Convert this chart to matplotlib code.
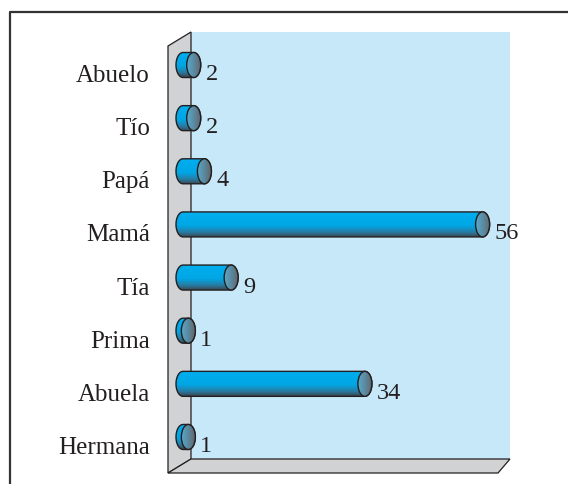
import numpy as np
import matplotlib
matplotlib.use("Agg")
import matplotlib.pyplot as plt
from matplotlib.path import Path
from matplotlib.patches import PathPatch, Ellipse, Polygon
from matplotlib.colors import LinearSegmentedColormap
import matplotlib.transforms as mtransforms

# data (top to bottom as in the picture)
categories = ["Abuelo", "Tío", "Papá", "Mamá", "Tía", "Prima", "Abuela", "Hermana"]
values = [2, 2, 4, 56, 9, 1, 34, 1]

W, H = 568, 485
fig = plt.figure(figsize=(W / 100, H / 100), dpi=100)
plt.rcParams['font.family'] = ['Liberation Serif', 'DejaVu Serif']

# background: frame and 3d walls, in pixel coords
bg = fig.add_axes([0, 0, 1, 1])
bg.set_xlim(0, W)
bg.set_ylim(H, 0)
bg.axis("off")
bg.plot([10, 10, W], [H, 13, 13], color="#333333", lw=1.6, solid_capstyle="butt")
bg.add_patch(Polygon([(191, 33), (510, 33), (510, 460), (191, 460)],
                     closed=True, facecolor="#c7e8f8", edgecolor="none"))
bg.add_patch(Polygon([(168, 47), (191, 33), (191, 460), (168, 474)],
                     closed=True, facecolor="#d1d2d4", edgecolor="#231f20", lw=0.9))
bg.add_patch(Polygon([(168, 474), (191, 460), (510, 460), (498, 474)],
                     closed=True, facecolor="#d1d2d4", edgecolor="#231f20", lw=0.9))

# data axes over the plot box
x0_px, px_per_unit = 183, 5.35
y_top_px, row_px = 66, 53.14
left, right, top, bottom = 168, 510, 33, 460
ax = fig.add_axes([left / W, 1 - bottom / H, (right - left) / W, (bottom - top) / H])
ax.set_xlim((left - x0_px) / px_per_unit, (right - x0_px) / px_per_unit)
n = len(categories)
ypos = np.arange(n)[::-1]  # Abuelo at top
ax.set_ylim(-(bottom - (y_top_px + (n - 1) * row_px)) / row_px,
            (n - 1) + (y_top_px - top) / row_px)
ax.patch.set_alpha(0)
ax.axis("off")

hh = 12.5 / row_px      # half height of cylinder
rx = 7 / px_per_unit    # cap half width

body_cmap = LinearSegmentedColormap.from_list(
    "body", [(0, "#3a4852"), (0.18, "#2a7aa0"), (0.45, "#00a6e4"), (1, "#00aeef")])
cap_cmap = LinearSegmentedColormap.from_list(
    "cap", [(0, "#5aa9cc"), (0.5, "#5b8aa0"), (1, "#5f6870")])
grad_v = np.linspace(0, 1, 64).reshape(-1, 1)
grad_h = np.linspace(0, 1, 64).reshape(1, -1)

t = np.linspace(0, np.pi, 40)
for yc, v in zip(ypos, values):
    # silhouette: left half ellipse at 0, right half ellipse at v
    lx = -rx * np.sin(t)
    ly = hh * np.cos(t)
    rxp = v + rx * np.sin(t)
    ryp = -hh * np.cos(t)
    verts = np.column_stack([np.r_[lx, rxp, lx[0]], yc + np.r_[ly, ryp, ly[0]]])
    codes = [Path.MOVETO] + [Path.LINETO] * (len(verts) - 2) + [Path.CLOSEPOLY]
    body = PathPatch(Path(verts, codes), facecolor="none", edgecolor="#231f20",
                     lw=1.0, zorder=3)
    ax.add_patch(body)
    im = ax.imshow(grad_v, cmap=body_cmap, aspect="auto", origin="lower",
                   extent=[-rx, v + rx, yc - hh, yc + hh], zorder=2)
    im.set_clip_path(body)

    cap = Ellipse((v, yc), 2 * rx, 2 * hh, facecolor="none",
                  edgecolor="#231f20", lw=1.0, zorder=5)
    ax.add_patch(cap)
    imc = ax.imshow(grad_h, cmap=cap_cmap, aspect="auto", origin="lower",
                    extent=[v - rx, v + rx, yc - hh, yc + hh], zorder=4)
    imc.set_clip_path(cap)

    # value label
    ax.text(v + rx + 5 / px_per_unit, yc, str(v), fontsize=17.5, color="#231f20",
            ha="left", va="baseline", zorder=6,
            transform=ax.transData + mtransforms.ScaledTranslation(0, -0.14, fig.dpi_scale_trans))

# category labels, right aligned left of the side wall
lab_tr = ax.get_yaxis_transform() + mtransforms.ScaledTranslation(-0.18, -0.16, fig.dpi_scale_trans)
for yc, name in zip(ypos, categories):
    ax.text(0, yc, name, fontsize=18, color="#231f20", ha="right", va="baseline",
            transform=lab_tr, clip_on=False)

fig.savefig("out.png", dpi=100)
